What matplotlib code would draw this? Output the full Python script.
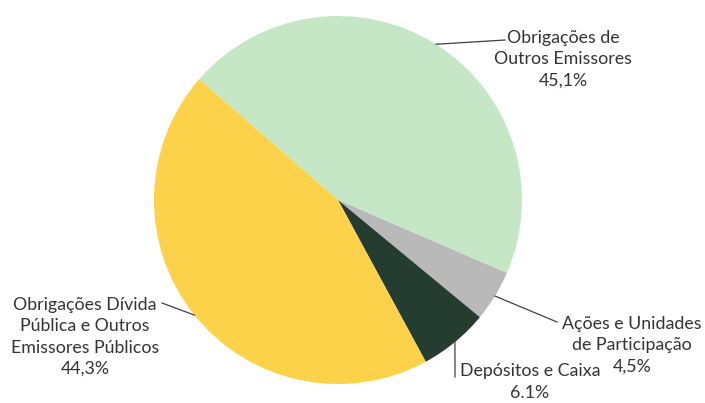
import numpy as np
import matplotlib.pyplot as plt

# dados da carteira
categorias = ['Obrigações de\nOutros Emissores', 'Ações e Unidades\nde Participação',
              'Depósitos e Caixa', 'Obrigações Dívida\nPública e Outros\nEmissores Públicos']
valores = [45.1, 4.5, 6.1, 44.3]
rotulos_pct = ['45,1%', '4,5%', '6.1%', '44,3%']
cores = ['#c6e7c6', '#b9b9b9', '#253d31', '#fcd24a']

plt.rcParams['font.family'] = ['Lato', 'DejaVu Sans']

fig = plt.figure(figsize=(7.05, 4.03), dpi=100)
ax = fig.add_axes([0, 0, 1, 1])

cx, cy, r = 338, 203, 184
wedges, _ = ax.pie(valores, colors=cores, startangle=139, counterclock=False,
                   center=(cx, cy), radius=r, frame=True)
ax.set_xlim(0, 705)
ax.set_ylim(0, 403)
ax.set_aspect('equal')
ax.axis('off')

# posicoes dos rotulos e fim das linhas
pos_texto = [(563, 344), (632, 58), (530, 21), (85, 66)]
fim_linha = [(505, 363), (557, 81), (455, 26), (162, 100)]

for w, cat, pct, (tx, ty), (lx, ly) in zip(wedges, categorias, rotulos_pct, pos_texto, fim_linha):
    ang = np.deg2rad((w.theta1 + w.theta2) / 2)
    ex = cx + r * np.cos(ang)
    ey = cy + r * np.sin(ang)
    ax.plot([ex, lx], [ey, ly], color='#404040', lw=0.9)
    ax.text(tx, ty, cat + '\n' + pct, ha='center', va='center', fontsize=12.8,
            color='#333333', linespacing=1.4)

fig.savefig('out.png', dpi=100)
